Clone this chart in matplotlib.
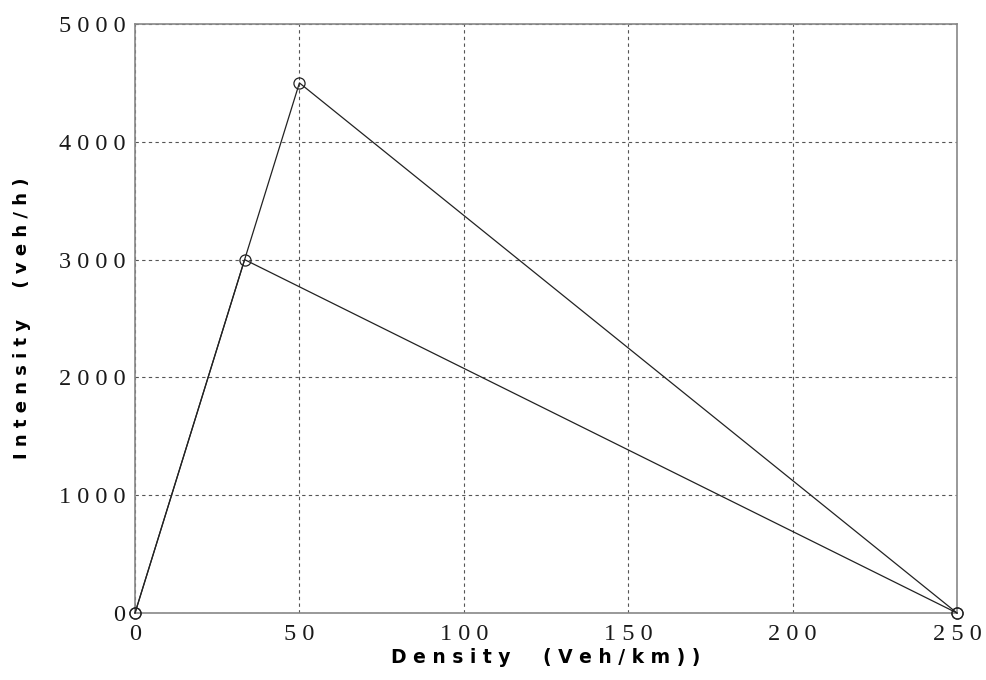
import matplotlib.pyplot as plt

# vertices of the two triangular fundamental diagrams
density_low = [0, 33.33, 250]
flow_low = [0, 3000, 0]
density_high = [0, 50, 250]
flow_high = [0, 4500, 0]

x_ticks = [0, 50, 100, 150, 200, 250]
y_ticks = [0, 1000, 2000, 3000, 4000, 5000]


def spaced(text):
    # letter-spaced text, with a wider gap between words
    return "     ".join(" ".join(word) for word in text.split(" "))


def main():
    fig = plt.figure(figsize=(9.87, 6.8), dpi=100)
    ax = fig.add_axes([0.1368, 0.0985, 0.8328, 0.8662])

    for xs, ys in [(density_high, flow_high), (density_low, flow_low)]:
        ax.plot(xs, ys, color="#222222", linewidth=0.9, marker="o",
                markersize=8, markerfacecolor="none", markeredgecolor="#222222",
                markeredgewidth=0.9, clip_on=False, zorder=3)

    ax.set_xlim(0, 250)
    ax.set_ylim(0, 5000)
    ax.set_xticks(x_ticks)
    ax.set_yticks(y_ticks)
    ax.set_xticklabels([spaced(str(v)) for v in x_ticks])
    ax.set_yticklabels([spaced(str(v)) for v in y_ticks])
    ax.grid(True, linestyle=(0, (3, 3)), color="#555555", linewidth=0.8)
    ax.tick_params(length=0, labelsize=17.5)
    ax.tick_params(axis="y", pad=7)
    ax.tick_params(axis="x", pad=8)
    for lab in ax.get_xticklabels() + ax.get_yticklabels():
        lab.set_fontfamily("Liberation Serif")
        lab.set_color("#1a1a1a")
    for s in ax.spines.values():
        s.set_color("#888888")
        s.set_linewidth(1.2)

    ax.set_xlabel(spaced("Density (Veh/km))"), fontsize=13.5,
                  fontweight="bold", labelpad=2)
    ax.set_ylabel(spaced("Intensity (veh/h)"), fontsize=13,
                  fontweight="bold", labelpad=20)

    fig.savefig("out.png", dpi=100)


if __name__ == "__main__":
    main()
